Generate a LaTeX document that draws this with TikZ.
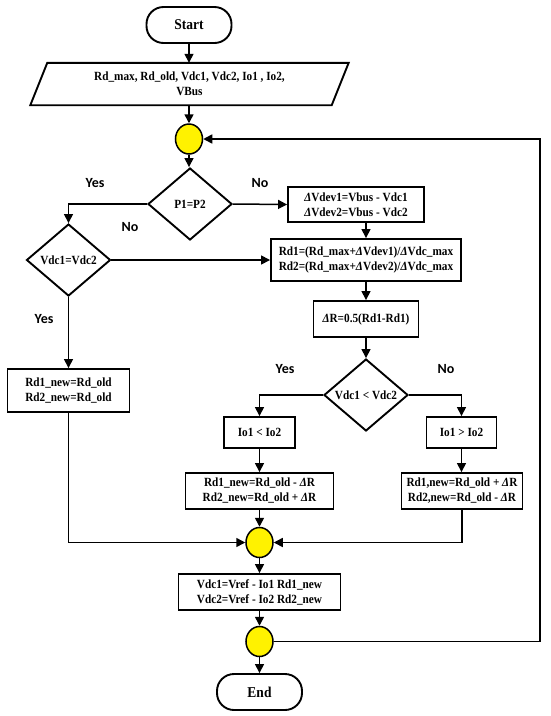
\documentclass[tikz,border=0pt]{standalone}
\usepackage{fontspec}
\setmainfont{Liberation Serif}[FakeStretch=0.9]
\newfontfamily\labfont{Carlito}
\usetikzlibrary{shapes.geometric,arrows.meta}
\newcommand{\dl}{\textit{Δ}}
\begin{document}
\begin{tikzpicture}[x=1pt,y=-1pt,
  txt/.style={font=\bfseries\fontsize{12.5}{15}\selectfont},
  box/.style={draw, line width=1.9pt, rectangle, align=center, inner sep=0pt, txt},
  term/.style={draw, line width=1.9pt, rectangle, rounded corners=17pt, inner sep=0pt,
     minimum width=85pt, minimum height=36pt, font=\bfseries\fontsize{15}{18}\selectfont},
  dec/.style={draw, diamond, line width=1.9pt, inner sep=0pt, minimum width=84pt, minimum height=72pt, txt},
  junc/.style={draw, ellipse, fill=yellow, line width=1.5pt, minimum width=27pt, minimum height=30pt, inner sep=0pt},
  conn/.style={line width=1.5pt, -{Triangle[length=9pt,width=9pt]}},
  lbl/.style={font=\labfont\bfseries\fontsize{14}{16}\selectfont}
]
\useasboundingbox (0,0) rectangle (550,716);

\node[term] (start) at (189,25) {Start};
\node[txt, align=center, inner sep=0pt, minimum width=301pt, minimum height=42pt] (in) at (189.5,84)
  {Rd\_max, Rd\_old, Vdc1, Vdc2, Io1 , Io2,\\VBus};
\draw[line width=1.9pt] ([xshift=-8.5pt]in.south west) -- ([xshift=8.5pt]in.north west)
  -- ([xshift=8.5pt]in.north east) -- ([xshift=-8.5pt]in.south east) -- cycle;
\node[junc] (c1) at (189,139) {};
\node[dec] (p) at (190,204) {\makebox[0pt]{P1=P2}};
\node[box, minimum width=136pt, minimum height=35pt] (dev) at (356,204.5)
  {\dl Vdev1=Vbus - Vdc1\\\dl Vdev2=Vbus - Vdc2};
\node[dec] (v) at (68.5,260) {\makebox[0pt]{Vdc1=Vdc2}};
\node[box, minimum width=190pt, minimum height=42pt] (rd) at (366,260)
  {Rd1=(Rd\_max+\dl Vdev1)/\dl Vdc\_max\\Rd2=(Rd\_max+\dl Vdev2)/\dl Vdc\_max};
\node[box, minimum width=105pt, minimum height=36pt] (dr) at (366,319) {\dl R=0.5(Rd1-Rd1)};
\node[box, minimum width=122pt, minimum height=43pt] (old) at (68.5,390.5)
  {Rd1\_new=Rd\_old\\Rd2\_new=Rd\_old};
\node[dec] (cmp) at (366,395) {\makebox[0pt]{Vdc1 < Vdc2}};
\node[box, minimum width=71pt, minimum height=31pt] (lt) at (259.5,432.5) {Io1 < Io2};
\node[box, minimum width=70pt, minimum height=31pt] (gt) at (461.5,432.5) {Io1 > Io2};
\node[box, minimum width=148pt, minimum height=36pt] (ln) at (259.5,491)
  {Rd1\_new=Rd\_old - \dl R\\Rd2\_new=Rd\_old + \dl R};
\node[box, minimum width=121pt, minimum height=36pt] (rn) at (462,491)
  {Rd1,new=Rd\_old + \dl R\\Rd2,new=Rd\_old - \dl R};
\node[junc] (c3) at (259.5,542.5) {};
\node[box, minimum width=162pt, minimum height=36pt] (vref) at (259.5,592)
  {Vdc1=Vref - Io1 Rd1\_new\\Vdc2=Vref - Io2 Rd2\_new};
\node[junc] (c4) at (259.5,641.5) {};
\node[term] (end) at (259.5,692) {End};
\coordinate (lr) at (540,641.5);

\node[lbl] (y1) at (95,183) {Yes};
\node[lbl] (n1) at (260,183) {No};
\node[lbl] (n2) at (130,227) {No};
\node[lbl] (y2) at (44,319) {Yes};
\node[lbl] (y3) at (285,369) {Yes};
\node[lbl] (n3) at (446,369) {No};

\draw[conn] (start) -- (start |- in.north);
\draw[conn] (c1 |- in.south) -- (c1);
\draw[conn] (c1) -- (c1 |- p.north);
\draw[conn] (p.west) -| (v.north);
\draw[conn] (p.east) -- (dev.west);
\draw[conn] (rd.north |- dev.south) -- (rd.north);
\draw[conn] (v.east) -- (rd.west);
\draw[conn] (v.south) -- (old.north);
\draw[conn] (rd.south) -- (dr.north);
\draw[conn] (dr.south) -- (cmp.north);
\draw[conn] (cmp.west) -| (lt.north);
\draw[conn] (cmp.east) -| (gt.north);
\draw[conn] (lt.south) -- (ln.north);
\draw[conn] (gt.south) -- (gt.south |- rn.north);
\draw[conn] (old.south) |- (c3.west);
\draw[conn] (rn.south) |- (c3.east);
\draw[conn] (ln.south) -- (c3.north);
\draw[conn] (c3.south) -- (vref.north);
\draw[conn] (vref.south) -- (c4.north);
\draw[conn] (c4.south) -- (end.north);
\draw[conn] (c4.east) -- (lr) |- (c1.east);
\end{tikzpicture}
\end{document}
